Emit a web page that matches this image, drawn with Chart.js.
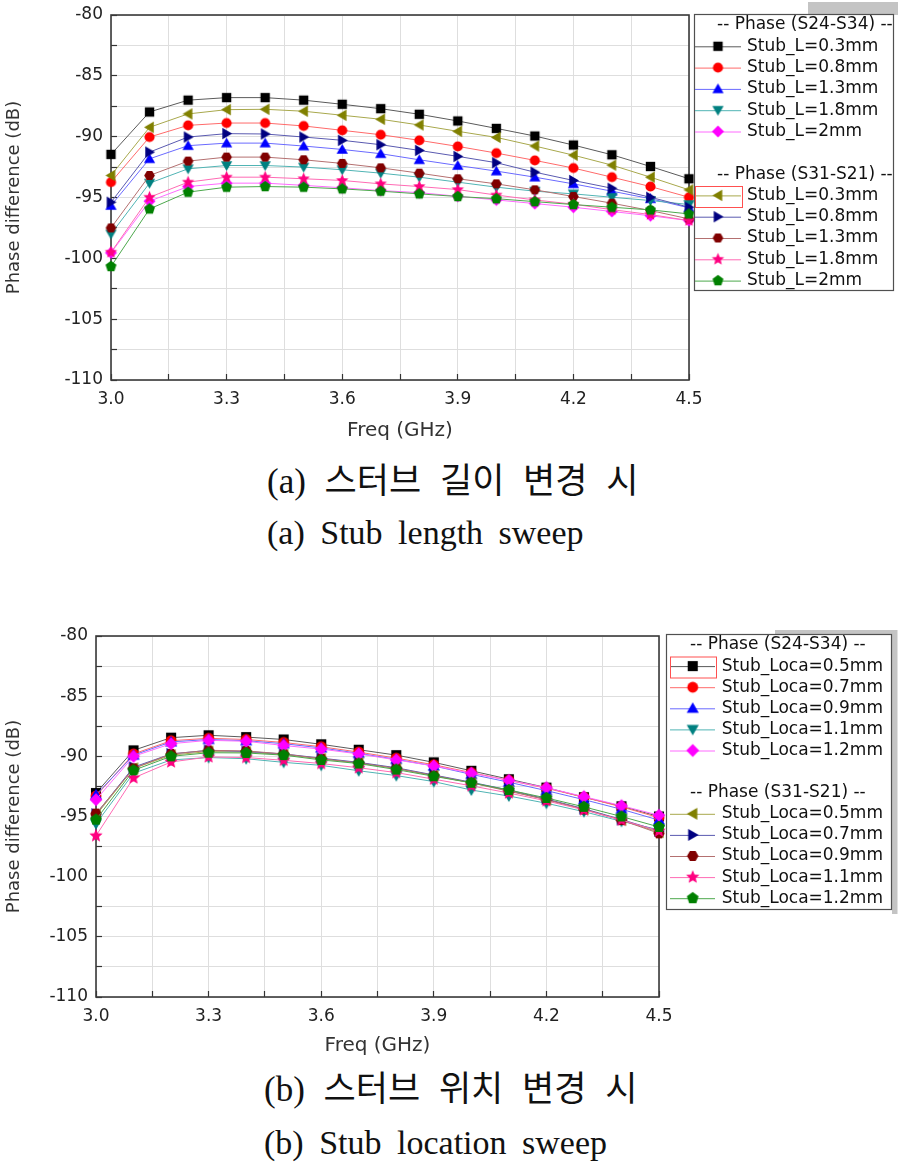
<!DOCTYPE html>
<html><head><meta charset="utf-8">
<script src="https://cdn.jsdelivr.net/npm/chart.js@4.4.0/dist/chart.umd.min.js"></script>
<style>
html,body{margin:0;padding:0;background:#fff;}
body{width:902px;height:1167px;position:relative;overflow:hidden;}
canvas{position:absolute;left:0;}
#c1{top:0;} #c2{top:620px;}
.cap{position:absolute;color:#111;white-space:pre;}
.ko{font-family:"Liberation Serif","Noto Sans CJK KR",serif;font-size:35px;line-height:38px;word-spacing:10px;}
.en{font-family:"Liberation Serif",serif;font-size:34px;line-height:40px;word-spacing:7px;}
</style></head><body>
<canvas id="c1" width="902" height="450"></canvas>
<canvas id="c2" width="902" height="450"></canvas>
<div class="cap ko" style="top:463px;left:267px">(a) 스터브 길이 변경 시</div>
<div class="cap en" style="top:513px;left:267px">(a) Stub length sweep</div>
<div class="cap ko" style="top:1071px;left:264px">(b) 스터브 위치 변경 시</div>
<div class="cap en" style="top:1123px;left:264px">(b) Stub location sweep</div>
<script>
// ---------- DATA ----------
const freqs = [3.0,3.1,3.2,3.3,3.4,3.5,3.6,3.7,3.8,3.9,4.0,4.1,4.2,4.3,4.4,4.5];
const xTickLabels = ['3.0','3.3','3.6','3.9','4.2','4.5'];
const yTickLabels = ['-110','-105','-100','-95','-90','-85','-80'];
const groupHeaders = ['-- Phase (S24-S34) --','-- Phase (S31-S21) --'];
const lenLabels = ['Stub_L=0.3mm','Stub_L=0.8mm','Stub_L=1.3mm','Stub_L=1.8mm','Stub_L=2mm'];
const locLabels = ['Stub_Loca=0.5mm','Stub_Loca=0.7mm','Stub_Loca=0.9mm','Stub_Loca=1.1mm','Stub_Loca=1.2mm'];
const xTitle = 'Freq (GHz)';
const yTitle = 'Phase difference (dB)';

// (a) stub length sweep
const lenS2434_03 = [-91.46,-87.97,-87.0,-86.79,-86.79,-87.0,-87.34,-87.7,-88.16,-88.71,-89.32,-89.95,-90.69,-91.49,-92.45,-93.46];
const lenS2434_08 = [-93.74,-90.03,-89.07,-88.88,-88.88,-89.12,-89.48,-89.84,-90.3,-90.8,-91.35,-91.95,-92.58,-93.33,-94.1,-94.98];
const lenS2434_13 = [-95.66,-91.82,-90.74,-90.53,-90.53,-90.77,-91.05,-91.4,-91.9,-92.37,-92.83,-93.33,-93.88,-94.48,-95.1,-95.85];
const lenS2434_18 = [-98.0,-93.82,-92.64,-92.37,-92.37,-92.5,-92.72,-93.0,-93.33,-93.74,-94.15,-94.48,-94.7,-94.98,-95.25,-95.58];
const lenS2434_20 = [-99.55,-95.3,-94.1,-93.82,-93.82,-94.0,-94.2,-94.43,-94.6,-94.9,-95.2,-95.5,-95.8,-96.15,-96.5,-96.9];
const lenS3121_03 = [-93.19,-89.23,-88.13,-87.78,-87.75,-87.91,-88.24,-88.57,-89.04,-89.56,-90.06,-90.77,-91.52,-92.34,-93.33,-94.37];
const lenS3121_08 = [-95.39,-91.27,-90.03,-89.75,-89.78,-90.03,-90.3,-90.66,-91.13,-91.62,-92.14,-92.92,-93.6,-94.24,-94.98,-95.8];
const lenS3121_13 = [-97.5,-93.19,-92.01,-91.68,-91.68,-91.9,-92.2,-92.56,-93.0,-93.46,-93.88,-94.37,-94.92,-95.47,-96.07,-96.76];
const lenS3121_18 = [-99.5,-94.98,-93.74,-93.33,-93.33,-93.46,-93.6,-93.88,-94.1,-94.35,-94.8,-95.2,-95.55,-96.0,-96.4,-96.9];
const lenS3121_20 = [-100.67,-95.94,-94.56,-94.15,-94.1,-94.15,-94.29,-94.48,-94.7,-94.92,-95.1,-95.34,-95.58,-95.8,-96.02,-96.35];

// (b) stub location sweep
const locS2434_05 = [-93.05,-89.5,-88.45,-88.25,-88.4,-88.6,-89.0,-89.45,-89.9,-90.5,-91.2,-91.9,-92.6,-93.4,-94.15,-95.0];
const locS2434_07 = [-93.3,-89.8,-88.7,-88.5,-88.6,-88.85,-89.2,-89.65,-90.15,-90.7,-91.35,-92.0,-92.65,-93.4,-94.2,-95.1];
const locS2434_09 = [-93.2,-89.9,-88.8,-88.6,-88.7,-88.95,-89.3,-89.75,-90.25,-90.8,-91.5,-92.15,-92.85,-93.6,-94.4,-95.3];
const locS2434_11 = [-95.6,-91.4,-90.3,-90.1,-90.2,-90.5,-90.75,-91.2,-91.6,-92.1,-92.8,-93.3,-93.9,-94.6,-95.4,-96.1];
const locS2434_12 = [-93.6,-90.0,-88.95,-88.67,-88.75,-89.1,-89.4,-89.8,-90.3,-90.8,-91.4,-92.0,-92.6,-93.35,-94.1,-94.9];
const locS3121_05 = [-94.9,-91.0,-89.9,-89.6,-89.65,-89.85,-90.2,-90.55,-91.0,-91.6,-92.2,-92.85,-93.6,-94.4,-95.3,-96.3];
const locS3121_07 = [-94.8,-90.9,-89.8,-89.5,-89.6,-89.8,-90.15,-90.5,-90.95,-91.55,-92.15,-92.8,-93.55,-94.35,-95.25,-96.2];
const locS3121_09 = [-94.76,-91.0,-89.8,-89.5,-89.55,-89.8,-90.2,-90.55,-91.0,-91.6,-92.2,-92.9,-93.6,-94.4,-95.3,-96.4];
const locS3121_11 = [-96.6,-91.8,-90.47,-90.05,-90.1,-90.33,-90.6,-90.95,-91.35,-91.9,-92.45,-93.05,-93.7,-94.45,-95.3,-96.2];
const locS3121_12 = [-95.26,-91.16,-90.0,-89.7,-89.72,-89.9,-90.3,-90.6,-91.1,-91.66,-92.2,-92.8,-93.46,-94.2,-95.0,-95.87];

// ---------- STYLES ----------
const seriesStyles = [
  {shape:'square',  color:'#000000', line:'#5a5a5a'},
  {shape:'circle',  color:'#ff0000', line:'#ff6a6a'},
  {shape:'triUp',   color:'#0000ff', line:'#6a6aff'},
  {shape:'triDown', color:'#008080', line:'#50b4b4'},
  {shape:'diamond', color:'#ff00ff', line:'#ff6aff'},
  {shape:'triLeft', color:'#808000', line:'#a8a84c'},
  {shape:'triRight',color:'#000080', line:'#5a5ab0'},
  {shape:'hexagon', color:'#800000', line:'#b47070'},
  {shape:'star',    color:'#ff0080', line:'#ff6ab4'},
  {shape:'pentagon',color:'#008000', line:'#4ca84c'}
];

function polyPath(g, cx, cy, n, rad, start) {
  g.beginPath();
  for (let i = 0; i < n; i++) {
    const a = start + i * 2 * Math.PI / n;
    const px = cx + rad * Math.cos(a), py = cy + rad * Math.sin(a);
    if (i === 0) g.moveTo(px, py); else g.lineTo(px, py);
  }
  g.closePath();
}
function makeMarker(shape, color, r) {
  const size = Math.ceil(2 * r + 4);
  const c = document.createElement('canvas');
  c.width = size; c.height = size;
  const g = c.getContext('2d');
  const m = size / 2;
  g.fillStyle = color;
  switch (shape) {
    case 'square': { const h = r * 0.72; g.beginPath(); g.rect(m - h, m - h, 2 * h, 2 * h); break; }
    case 'circle': g.beginPath(); g.arc(m, m, r * 0.78, 0, Math.PI * 2); break;
    case 'triUp': polyPath(g, m, m + r * 0.15, 3, r, -Math.PI / 2); break;
    case 'triDown': polyPath(g, m, m - r * 0.15, 3, r, Math.PI / 2); break;
    case 'triLeft': polyPath(g, m + r * 0.15, m, 3, r, Math.PI); break;
    case 'triRight': polyPath(g, m - r * 0.15, m, 3, r, 0); break;
    case 'diamond': polyPath(g, m, m, 4, r * 0.92, -Math.PI / 2); break;
    case 'hexagon': polyPath(g, m, m, 6, r * 0.82, 0); break;
    case 'pentagon': polyPath(g, m, m, 5, r * 0.88, -Math.PI / 2); break;
    case 'star': {
      g.beginPath();
      for (let i = 0; i < 10; i++) {
        const a = -Math.PI / 2 + i * Math.PI / 5;
        const rad = (i % 2 === 0) ? r : r * 0.45;
        const px = m + rad * Math.cos(a), py = m + rad * Math.sin(a);
        if (i === 0) g.moveTo(px, py); else g.lineTo(px, py);
      }
      g.closePath(); break;
    }
  }
  g.fill();
  return c;
}

// ---------- PLUGINS ----------
const framePlugin = {
  id: 'plotFrame',
  beforeDatasetsDraw(chart) {
    const a = chart.chartArea, ctx = chart.ctx;
    ctx.save();
    ctx.strokeStyle = '#3a3a3a'; ctx.lineWidth = 1.6;
    ctx.strokeRect(a.left, a.top, a.right - a.left, a.bottom - a.top);
    ctx.restore();
  }
};
const groupLegendPlugin = {
  id: 'groupLegend',
  afterDraw(chart, args, o) {
    if (!o || !o.box) return;
    const ctx = chart.ctx;
    ctx.save();
    ctx.fillStyle = '#c4c4c4';
    (o.shadows || []).forEach(r => ctx.fillRect(r[0], r[1], r[2], r[3]));
    const [bx, by, bw, bh] = o.box;
    ctx.fillStyle = '#ffffff'; ctx.fillRect(bx, by, bw, bh);
    ctx.strokeStyle = '#505050'; ctx.lineWidth = 1.2; ctx.strokeRect(bx, by, bw, bh);
    ctx.font = o.font; ctx.textBaseline = 'middle'; ctx.textAlign = 'left';
    ctx.fillStyle = '#111';
    const ds = chart.data.datasets;
    const rowOf = [1, 2, 3, 4, 5, 8, 9, 10, 11, 12];
    ctx.fillText(o.headers[0], o.headerX, o.rowY0);
    ctx.fillText(o.headers[1], o.headerX, o.rowY0 + 7 * o.rowH);
    ds.forEach((d, i) => {
      const y = o.rowY0 + rowOf[i] * o.rowH;
      ctx.strokeStyle = d.borderColor; ctx.lineWidth = 1;
      ctx.beginPath(); ctx.moveTo(o.lineX0, y + 0.5); ctx.lineTo(o.lineX1, y + 0.5); ctx.stroke();
      const mk = d.pointStyle;
      ctx.drawImage(mk, o.markX - mk.width / 2, y - mk.height / 2);
      ctx.fillStyle = '#111';
      ctx.fillText(d.label, o.textX, y);
    });
    if (o.highlight) {
      const r = o.highlight;
      ctx.strokeStyle = '#ff5050'; ctx.lineWidth = 1;
      ctx.strokeRect(r[0], r[1], r[2], r[3]);
    }
    ctx.restore();
  }
};

// ---------- CHART BUILDER ----------
function buildChart(id, seriesList, labels, markerR, orderList, lay, legendOpts) {
  const datasets = seriesList.map((vals, i) => ({
    label: labels[i % 5],
    data: freqs.map((f, k) => ({x: f, y: vals[k]})),
    borderColor: seriesStyles[i].line,
    backgroundColor: seriesStyles[i].color,
    borderWidth: 1,
    pointStyle: makeMarker(seriesStyles[i].shape, seriesStyles[i].color, markerR),
    pointRadius: markerR,
    tension: 0,
    clip: false,
    order: orderList[i]
  }));
  const zeroPad = s => { s.paddingTop = 0; s.paddingBottom = 0; s.paddingLeft = 0; s.paddingRight = 0; };
  return new Chart(document.getElementById(id), {
    type: 'line',
    data: {datasets},
    plugins: [framePlugin, groupLegendPlugin],
    options: {
      responsive: false, animation: false, devicePixelRatio: 1,
      layout: {padding: {left: 0, top: lay.top, right: lay.right, bottom: 0}},
      plugins: {legend: {display: false}, tooltip: {enabled: false}, groupLegend: legendOpts},
      scales: {
        x: {
          type: 'linear', min: 3.0, max: 4.5,
          afterFit: s => { s.height = lay.xHeight; zeroPad(s); },
          border: {display: false},
          grid: {color: '#dedede', lineWidth: 1, drawTicks: true, tickLength: -6, tickColor: '#333', tickWidth: 1.2},
          ticks: {
            stepSize: 0.15, padding: 15, color: '#222', maxRotation: 0, autoSkip: false,
            font: {family: 'DejaVu Sans', size: 17},
            callback: v => { const s = v.toFixed(1); return (Math.abs(v * 10 - Math.round(v * 10)) < 1e-6 && xTickLabels.includes(s)) ? s : ''; }
          },
          title: {display: true, text: xTitle, color: '#333', font: {family: 'DejaVu Sans', size: 20}, padding: {top: 0, bottom: lay.xTitlePad}}
        },
        y: {
          type: 'linear', min: -110, max: -80,
          afterFit: s => { s.width = lay.yWidth; zeroPad(s); },
          border: {display: false},
          grid: {color: '#dedede', lineWidth: 1, drawTicks: true, tickLength: -6, tickColor: '#333', tickWidth: 1.2},
          ticks: {
            stepSize: 2.5, padding: 14, color: '#222', autoSkip: false,
            font: {family: 'DejaVu Sans', size: 17},
            callback: v => { const s = String(v); return yTickLabels.includes(s) ? s : ''; }
          },
          title: {display: true, text: yTitle, color: '#333', font: {family: 'DejaVu Sans', size: 18}, padding: {top: 4, bottom: 0}}
        }
      }
    }
  });
}

buildChart('c1',
  [lenS2434_03, lenS2434_08, lenS2434_13, lenS2434_18, lenS2434_20,
   lenS3121_03, lenS3121_08, lenS3121_13, lenS3121_18, lenS3121_20],
  lenLabels, 6.5,
  [10, 9, 8, 7, 6, 5, 4, 3, 2, 1],
  {top: 15, right: 213, xHeight: 70, yWidth: 111, xTitlePad: 7},
  {box: [694.5, 14.5, 199, 276], rowY0: 25, rowH: 21.3, headerX: 717, lineX0: 695, lineX1: 741,
   markX: 718, textX: 747, headers: groupHeaders, font: '17px "DejaVu Sans"',
   highlight: [695.5, 186.5, 47, 21], shadows: [[808, 2, 90, 13]]}
);

buildChart('c2',
  [locS2434_05, locS2434_07, locS2434_09, locS2434_11, locS2434_12,
   locS3121_05, locS3121_07, locS3121_09, locS3121_11, locS3121_12],
  locLabels, 7,
  [9, 8, 7, 6, 1, 5, 4, 3, 2, 0],
  {top: 16, right: 243, xHeight: 73, yWidth: 96, xTitlePad: 12},
  {box: [666.5, 14.5, 225, 275], rowY0: 25, rowH: 21.1, headerX: 690, lineX0: 670, lineX1: 715,
   markX: 692.7, textX: 721.7, headers: groupHeaders, font: '17px "DejaVu Sans"',
   highlight: [670.5, 37, 46, 21], shadows: [[892, 10, 5.5, 284], [775, 10, 122, 5]]}
);
</script>
</body></html>
